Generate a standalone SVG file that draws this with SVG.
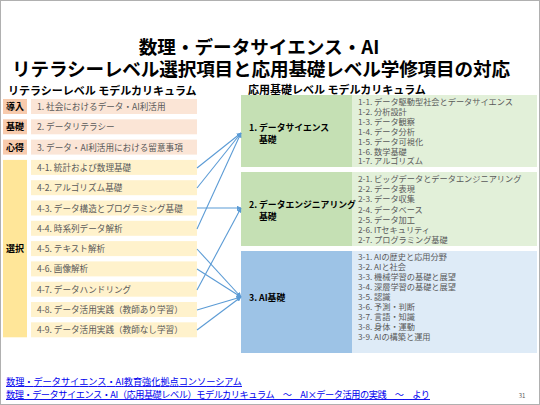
<svg xmlns="http://www.w3.org/2000/svg" width="540" height="405" viewBox="0 0 540 405">
<defs>
<style>
text{font-family:"Noto Sans CJK JP","Noto Sans",sans-serif;}
.title{font-size:18.6px;font-weight:bold;fill:#000;}
.sub{font-size:11px;font-weight:bold;fill:#000;}
.tag{font-size:9px;font-weight:bold;fill:#000;}
.item{font-size:8.6px;fill:#595959;}
.cat{font-size:8.8px;font-weight:bold;fill:#000;}
.det{font-size:8.2px;fill:#595959;}
.tagA{fill:#F8CBAD;}
.itemA{fill:#FBE5D6;}
.tagB{fill:#FFE699;}
.itemB{fill:#FFF2CC;}
.link{font-size:9.2px;fill:#0000EE;text-decoration:underline;}
.conn{stroke:#5B9BD5;stroke-width:1.1;fill:none;marker-end:url(#arr);}
</style>
<marker id="arr" viewBox="0 0 10 10" refX="9" refY="5" markerWidth="4.5" markerHeight="4.5" orient="auto" markerUnits="strokeWidth">
<path d="M0,0 L10,5 L0,10 z" fill="#5B9BD5"/>
</marker>
</defs>
<rect x="0.5" y="0.5" width="539" height="404" fill="#fff" stroke="#B0B0B0"/>
<g id="title">
<text class="title" x="259" y="54" text-anchor="middle">数理・データサイエンス・AI</text>
<text class="title" x="261" y="76" text-anchor="middle" textLength="498" lengthAdjust="spacing">リテラシーレベル選択項目と応用基礎レベル学修項目の対応</text>
</g>
<text class="sub" x="8" y="95">リテラシーレベル モデルカリキュラム</text>
<text class="sub" x="248" y="94">応用基礎レベル モデルカリキュラム</text>

<g id="tag-intro"><rect class="tagA" x="3" y="99" width="24" height="15"/><text class="tag" x="15" y="110" text-anchor="middle">導入</text></g>
<g id="tag-basic"><rect class="tagA" x="3" y="119.3" width="24" height="15"/><text class="tag" x="15" y="130.3" text-anchor="middle">基礎</text></g>
<g id="tag-mind"><rect class="tagA" x="3" y="139.6" width="24" height="15"/><text class="tag" x="15" y="150.6" text-anchor="middle">心得</text></g>
<g id="tag-select"><rect class="tagB" x="3" y="159.9" width="24" height="177.4"/><text class="tag" x="15" y="252" text-anchor="middle">選択</text></g>

<g id="item-1"><rect class="itemA" x="31" y="99" width="166" height="15"/><text class="item" x="37" y="110">1. 社会におけるデータ・AI利活用</text></g>
<g id="item-2"><rect class="itemA" x="31" y="119.3" width="166" height="15"/><text class="item" x="37" y="130.3">2. データリテラシー</text></g>
<g id="item-3"><rect class="itemA" x="31" y="139.6" width="166" height="15"/><text class="item" x="37" y="150.6">3. データ・AI利活用における留意事項</text></g>
<g id="item-4-1"><rect class="itemB" x="31" y="159.9" width="166" height="15"/><text class="item" x="37" y="170.9">4-1. 統計および数理基礎</text></g>
<g id="item-4-2"><rect class="itemB" x="31" y="180.2" width="166" height="15"/><text class="item" x="37" y="191.2">4-2. アルゴリズム基礎</text></g>
<g id="item-4-3"><rect class="itemB" x="31" y="200.5" width="166" height="15"/><text class="item" x="37" y="211.5">4-3. データ構造とプログラミング基礎</text></g>
<g id="item-4-4"><rect class="itemB" x="31" y="220.8" width="166" height="15"/><text class="item" x="37" y="231.8">4-4. 時系列データ解析</text></g>
<g id="item-4-5"><rect class="itemB" x="31" y="241.1" width="166" height="15"/><text class="item" x="37" y="252.1">4-5. テキスト解析</text></g>
<g id="item-4-6"><rect class="itemB" x="31" y="261.4" width="166" height="15"/><text class="item" x="37" y="272.4">4-6. 画像解析</text></g>
<g id="item-4-7"><rect class="itemB" x="31" y="281.7" width="166" height="15"/><text class="item" x="37" y="292.7">4-7. データハンドリング</text></g>
<g id="item-4-8"><rect class="itemB" x="31" y="302" width="166" height="15"/><text class="item" x="37" y="313">4-8. データ活用実践（教師あり学習）</text></g>
<g id="item-4-9"><rect class="itemB" x="31" y="322.3" width="166" height="15"/><text class="item" x="37" y="333.3">4-9. データ活用実践（教師なし学習）</text></g>

<g id="cat-1">
<rect x="241" y="95" width="111" height="72" fill="#C5E0B4"/>
<rect x="352" y="95" width="185" height="72" fill="#E2F0D9"/>
<text class="cat" x="249" y="131">1. データサイエンス</text>
<text class="cat" x="259" y="143">基礎</text>
<text class="det" x="358" y="105">1-1. データ駆動型社会とデータサイエンス</text>
<text class="det" x="358" y="114.9">1-2. 分析設計</text>
<text class="det" x="358" y="124.8">1-3. データ観察</text>
<text class="det" x="358" y="134.7">1-4. データ分析</text>
<text class="det" x="358" y="144.6">1-5. データ可視化</text>
<text class="det" x="358" y="154.5">1-6. 数学基礎</text>
<text class="det" x="358" y="164.4">1-7. アルゴリズム</text>
</g>
<g id="cat-2">
<rect x="241" y="172" width="111" height="74" fill="#C5E0B4"/>
<rect x="352" y="172" width="185" height="74" fill="#E2F0D9"/>
<text class="cat" x="249" y="208">2. データエンジニアリング</text>
<text class="cat" x="259" y="220">基礎</text>
<text class="det" x="358" y="182">2-1. ビッグデータとデータエンジニアリング</text>
<text class="det" x="358" y="192.2">2-2. データ表現</text>
<text class="det" x="358" y="202.4">2-3. データ収集</text>
<text class="det" x="358" y="212.6">2-4. データベース</text>
<text class="det" x="358" y="222.8">2-5. データ加工</text>
<text class="det" x="358" y="233">2-6. ITセキュリティ</text>
<text class="det" x="358" y="243.2">2-7. プログラミング基礎</text>
</g>
<g id="cat-3">
<rect x="241" y="251" width="111" height="102" fill="#9DC3E6"/>
<rect x="352" y="251" width="185" height="102" fill="#DEEBF7"/>
<text class="cat" x="249" y="301">3. AI基礎</text>
<text class="det" x="358" y="259.5">3-1. AIの歴史と応用分野</text>
<text class="det" x="358" y="269.6">3-2. AIと社会</text>
<text class="det" x="358" y="279.7">3-3. 機械学習の基礎と展望</text>
<text class="det" x="358" y="289.8">3-4. 深層学習の基礎と展望</text>
<text class="det" x="358" y="299.9">3-5. 認識</text>
<text class="det" x="358" y="310">3-6. 予測・判断</text>
<text class="det" x="358" y="320.1">3-7. 言語・知識</text>
<text class="det" x="358" y="330.2">3-8. 身体・運動</text>
<text class="det" x="358" y="340.3">3-9. AIの構築と運用</text>
</g>

<g id="connectors">
<line class="conn" x1="197" y1="168" x2="241" y2="133"/>
<line class="conn" x1="197" y1="188" x2="241" y2="133"/>
<line class="conn" x1="197" y1="208" x2="241" y2="208"/>
<line class="conn" x1="197" y1="229" x2="241" y2="133"/>
<line class="conn" x1="197" y1="249" x2="241" y2="297"/>
<line class="conn" x1="197" y1="269" x2="241" y2="297"/>
<line class="conn" x1="197" y1="290" x2="241" y2="208"/>
<line class="conn" x1="197" y1="310" x2="241" y2="297"/>
<line class="conn" x1="197" y1="330" x2="241" y2="297"/>
</g>

<g id="footer">
<text class="link" x="6" y="385" textLength="236" lengthAdjust="spacing">数理・データサイエンス・AI教育強化拠点コンソーシアム</text>
<text class="link" x="6" y="398" textLength="424" lengthAdjust="spacing">数理・データサイエンス・AI（応用基礎レベル）モデルカリキュラム　～　AI×データ活用の実践　～　より</text>
<text x="522" y="398" text-anchor="middle" style="font-size:6px;fill:#595959;">31</text>
</g>
</svg>
